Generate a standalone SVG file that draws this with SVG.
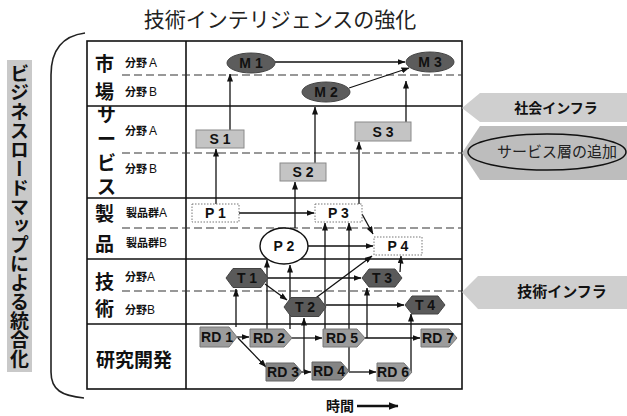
<svg xmlns="http://www.w3.org/2000/svg" width="627" height="416" viewBox="0 0 627 416">
<defs>
<marker id="ah" viewBox="0 0 8 6" refX="7.5" refY="3" markerWidth="8" markerHeight="6" markerUnits="userSpaceOnUse" orient="auto"><path d="M0,0 L8,3 L0,6 z" fill="#111"/></marker>
<marker id="ahb" viewBox="0 0 10 8" refX="9.5" refY="4" markerWidth="10" markerHeight="8" markerUnits="userSpaceOnUse" orient="auto"><path d="M0,0 L10,4 L0,8 z" fill="#111"/></marker>
<style>
.jp{font-family:"Noto Sans CJK JP","Noto Sans CJK SC",sans-serif;}
.lbl{font-family:"Noto Sans CJK JP",sans-serif;font-weight:bold;font-size:19px;fill:#111;}
.sub{font-family:"Noto Sans CJK JP",sans-serif;font-weight:bold;font-size:11px;fill:#111;}
.lat{font-family:"Liberation Sans",Arial,sans-serif;font-weight:normal;font-size:12px;}
.nt{font-family:"Liberation Sans",Arial,sans-serif;font-weight:bold;font-size:14px;fill:#111;text-anchor:middle;dominant-baseline:central;}
.grid{stroke:#111;stroke-width:1.6;fill:none;}
.dash{stroke:#333;stroke-width:1.2;stroke-dasharray:8 4;fill:none;}
.mk{fill:#5c5c5c;stroke:#444;stroke-width:1;}
.sv{fill:#c4c4c4;stroke:#8a8a8a;stroke-width:1;}
.pr{fill:#fff;stroke:#777;stroke-width:1;stroke-dasharray:1.5 1.5;}
.tc{fill:#5a5a5a;stroke:#444;stroke-width:1;}
.rd{fill:#9c9c9c;stroke:#777;stroke-width:1;}
.rdd{fill:#858585;stroke:#666;stroke-width:1;}
.cn{stroke:#111;stroke-width:1.3;fill:none;marker-end:url(#ah);}
.side{fill:#cfcfcf;}
</style>
</defs>
<rect width="627" height="416" fill="#fff"/>

<g id="title"><text x="280" y="27" class="jp" font-size="21" text-anchor="middle" fill="#222">技術インテリジェンスの強化</text></g>

<g id="left-label">
<rect x="7" y="60" width="25" height="312" fill="#c9c9c9"/>
<text x="19.5" y="64" class="jp" font-size="19" font-weight="bold" fill="#111" style="writing-mode:vertical-rl">ビジネスロードマップによる統合化</text>
<path d="M 85 33 C 62 36 51 50 51 75 L 51 372 C 51 390 62 396 84 398" fill="none" stroke="#222" stroke-width="1.6"/>
</g>

<g id="table">
<rect x="87" y="41" width="375" height="348" class="grid" stroke-width="2"/>
<line x1="186" y1="41" x2="186" y2="389" class="grid"/>
<line x1="87" y1="106" x2="462" y2="106" class="grid"/>
<line x1="87" y1="198" x2="462" y2="198" class="grid"/>
<line x1="87" y1="259" x2="462" y2="259" class="grid"/>
<line x1="87" y1="324" x2="462" y2="324" class="grid"/>
<line x1="122" y1="75" x2="462" y2="75" class="dash"/>
<line x1="122" y1="153" x2="462" y2="153" class="dash"/>
<line x1="122" y1="228" x2="462" y2="228" class="dash"/>
<line x1="122" y1="291" x2="462" y2="291" class="dash"/>
<text class="lbl"><tspan x="95" y="71">市</tspan><tspan x="95" y="99">場</tspan></text>
<text class="lbl" font-weight="normal" font-size="14"><tspan x="97" y="122">サ</tspan><tspan x="97" y="146">ー</tspan><tspan x="97" y="170">ビ</tspan><tspan x="97" y="194">ス</tspan></text>
<text class="lbl"><tspan x="95" y="221">製</tspan><tspan x="95" y="251">品</tspan></text>
<text class="lbl"><tspan x="95" y="289">技</tspan><tspan x="95" y="316">術</tspan></text>
<text x="96" y="367" class="lbl" font-size="18">研究開発</text>
<text x="125" y="67" class="sub">分野<tspan class="lat" dx="2">A</tspan></text>
<text x="125" y="96" class="sub">分野<tspan class="lat" dx="2">B</tspan></text>
<text x="125" y="135" class="sub">分野<tspan class="lat" dx="2">A</tspan></text>
<text x="125" y="173" class="sub">分野<tspan class="lat" dx="2">B</tspan></text>
<text x="126" y="217" class="sub">製品群<tspan class="lat">A</tspan></text>
<text x="126" y="247" class="sub">製品群<tspan class="lat">B</tspan></text>
<text x="125" y="281" class="sub">分野<tspan class="lat">A</tspan></text>
<text x="125" y="314" class="sub">分野<tspan class="lat">B</tspan></text>
</g>

<g id="connectors">
<path class="cn" d="M 275 62 L 405 62"/>
<path class="cn" d="M 349 88 L 409 68"/>
<path class="cn" d="M 230 130 L 230 74"/>
<path class="cn" d="M 315 163 L 315 107"/>
<path class="cn" d="M 406 122 L 406 81"/>
<path class="cn" d="M 216 204 L 216 149"/>
<path class="cn" d="M 295 228 L 295 182"/>
<path class="cn" d="M 359 204 L 359 142"/>
<path class="cn" d="M 239 213 L 314 213"/>
<path class="cn" d="M 362 214 L 373 234"/>
<path class="cn" d="M 308 246 L 373 246"/>
<path class="cn" d="M 313 300 L 372 256" stroke-width="2.6" marker-end="url(#ahb)"/>
<path class="cn" d="M 400 272 L 401 256"/>
<path class="cn" d="M 265 284 L 287 300"/>
<path class="cn" d="M 268 278 L 361 278"/>
<path class="cn" d="M 326 305 L 404 305"/>
<path class="cn" d="M 236 327 L 236 289"/>
<path class="cn" d="M 290 329 L 290 265"/>
<path class="cn" d="M 267 329 L 267 260"/>
<path class="cn" d="M 304 371 L 304 318"/>
<path class="cn" d="M 325 329 L 325 223"/>
<path class="cn" d="M 349 371 L 349 223"/>
<path class="cn" d="M 367 338 L 367 288"/>
<path class="cn" d="M 411 372 L 411 314"/>
<path class="cn" d="M 237 337 L 249 337"/>
<path class="cn" d="M 238 338 L 266 367"/>
<path class="cn" d="M 292 338 L 322 338"/>
<path class="cn" d="M 365 338 L 420 338"/>
<path class="cn" d="M 302 372 L 311 372"/>
<path class="cn" d="M 349 372 L 376 372"/>
</g>

<g id="M1"><ellipse cx="251" cy="63" rx="24" ry="10" class="mk"/><text x="251" y="63" class="nt">M 1</text></g>
<g id="M2"><ellipse cx="326" cy="92" rx="24" ry="10" class="mk"/><text x="326" y="92" class="nt">M 2</text></g>
<g id="M3"><ellipse cx="430" cy="62" rx="24" ry="10" class="mk"/><text x="430" y="62" class="nt">M 3</text></g>

<g id="S1"><rect x="196" y="130" width="48" height="18" class="sv"/><text x="220" y="139" class="nt">S 1</text></g>
<g id="S2"><rect x="280" y="163" width="46" height="18" class="sv"/><text x="303" y="172" class="nt">S 2</text></g>
<g id="S3"><rect x="355" y="122" width="56" height="19" class="sv"/><text x="383" y="131.5" class="nt">S 3</text></g>

<g id="P1"><rect x="192" y="204" width="47" height="18" class="pr"/><text x="215.5" y="213" class="nt">P 1</text></g>
<g id="P3"><rect x="315" y="204" width="47" height="18" class="pr"/><text x="338.5" y="213" class="nt">P 3</text></g>
<g id="P2"><ellipse cx="284" cy="246" rx="24" ry="18" fill="#fff" stroke="#111" stroke-width="1.4"/><text x="284" y="246" class="nt">P 2</text></g>
<g id="P4"><rect x="374" y="237" width="48" height="18" class="pr"/><text x="398" y="246" class="nt">P 4</text></g>

<g id="T1"><polygon points="226,278 233,268.5 261,268.5 268,278 261,287.5 233,287.5" class="tc"/><text x="247" y="278" class="nt">T 1</text></g>
<g id="T2"><polygon points="284,307 291,297.5 319,297.5 326,307 319,316.5 291,316.5" class="tc"/><text x="305" y="307" class="nt">T 2</text></g>
<g id="T3"><polygon points="362,278 369,269 395,269 402,278 395,287 369,287" class="tc"/><text x="382" y="278" class="nt">T 3</text></g>
<g id="T4"><polygon points="405,305 412,296 438,296 445,305 438,314 412,314" class="tc"/><text x="425" y="305" class="nt">T 4</text></g>

<g id="RD1"><polygon points="200,327 229,327 237,337 229,347 200,347" class="rd"/><text x="217" y="337" class="nt">RD 1</text></g>
<g id="RD2"><polygon points="250,329 284,329 292,338 284,347 250,347" class="rd"/><text x="269" y="338" class="nt">RD 2</text></g>
<g id="RD3"><polygon points="266,363 294,363 302,372 294,381 266,381" class="rdd"/><text x="283" y="372" class="nt">RD 3</text></g>
<g id="RD4"><polygon points="312,362 341,362 349,371 341,380 312,380" class="rdd"/><text x="329" y="371" class="nt">RD 4</text></g>
<g id="RD5"><polygon points="323,329 357,329 365,338 357,347 323,347" class="rd"/><text x="342" y="338" class="nt">RD 5</text></g>
<g id="RD6"><polygon points="377,363 404,363 412,372 404,381 377,381" class="rd"/><text x="393" y="372" class="nt">RD 6</text></g>
<g id="RD7"><polygon points="421,329 449,329 457,338 449,347 421,347" class="rd"/><text x="438" y="338" class="nt">RD 7</text></g>

<g id="social-infra"><polygon points="462,108 480,93 627,93 627,122 480,122" class="side"/><text x="556" y="113" class="jp" font-size="14" font-weight="bold" text-anchor="middle" fill="#111">社会インフラ</text></g>
<g id="service-layer"><polygon points="462,153 480,126 627,126 627,180 480,180" fill="#bdbdbd"/><ellipse cx="547" cy="152" rx="79" ry="18" fill="none" stroke="#111" stroke-width="1.5"/><text x="557" y="157" class="jp" font-size="15" text-anchor="middle" fill="#222">サービス層の追加</text></g>
<g id="tech-infra"><polygon points="462,292 478,276 627,276 627,309 478,309" class="side"/><text x="562" y="297" class="jp" font-size="15" font-weight="bold" text-anchor="middle" fill="#111">技術インフラ</text></g>

<g id="time"><text x="340" y="411" class="jp" font-size="14" font-weight="bold" text-anchor="middle" fill="#111">時間</text><path d="M 357 406 L 398 406" stroke="#111" stroke-width="2.6" fill="none" marker-end="url(#ahb)"/></g>
</svg>
